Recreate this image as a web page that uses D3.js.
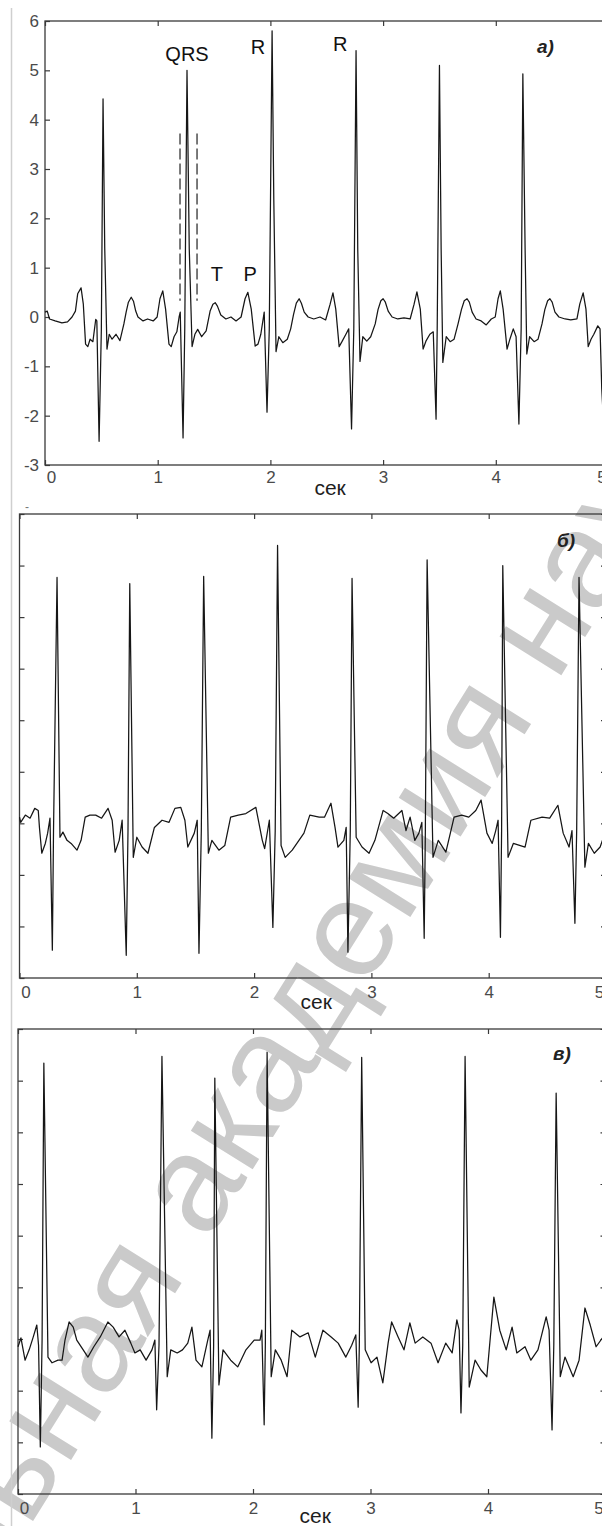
<!DOCTYPE html>
<html>
<head>
<meta charset="utf-8">
<script src="https://cdn.jsdelivr.net/npm/d3@7/dist/d3.min.js"></script>
<style>
  html, body { margin: 0; padding: 0; background: #fff; }
  svg { display: block; font-family: "Liberation Sans", Arial, sans-serif; }
</style>
</head>
<body>
<svg id="chart" width="602" height="1526"></svg>
<script>
// ---- data ---------------------------------------------------------------
const xTicks = [0, 1, 2, 3, 4, 5];
const yTicks = [-3, -2, -1, 0, 1, 2, 3, 4, 5, 6];
const xLabel = "сек";

// a) clean ECG record: [time, s ; amplitude]
const ecgA = [
  [0.00,0.10],[0.02,0.12],[0.04,-0.04],[0.09,-0.08],[0.15,-0.12],[0.20,-0.10],[0.24,0.00],[0.27,0.12],
  [0.29,0.47],[0.32,0.59],[0.34,0.26],[0.36,-0.55],[0.38,-0.60],[0.40,-0.45],[0.425,-0.50],[0.45,-0.05],
  [0.46,-0.08],[0.48,-2.52],[0.50,-0.25],[0.515,4.42],[0.53,1.40],[0.55,-0.65],[0.57,-0.35],[0.595,-0.45],
  [0.63,-0.35],[0.665,-0.48],[0.70,-0.14],[0.72,0.10],[0.74,0.30],[0.765,0.40],[0.785,0.32],[0.805,0.12],
  [0.825,0.00],[0.87,-0.08],[0.91,-0.04],[0.96,-0.08],[0.995,0.00],[1.02,0.37],[1.045,0.53],[1.07,0.16],
  [1.10,-0.55],[1.12,-0.60],[1.145,-0.40],[1.17,-0.30],[1.19,0.00],[1.20,0.10],[1.225,-2.45],[1.24,-0.25],
  [1.26,5.00],[1.28,1.38],[1.305,-0.60],[1.33,-0.35],[1.355,-0.25],[1.39,-0.40],[1.43,-0.28],[1.465,0.12],
  [1.49,0.26],[1.51,0.29],[1.53,0.22],[1.56,0.04],[1.605,-0.04],[1.65,0.00],[1.695,-0.08],[1.74,0.00],
  [1.775,0.37],[1.80,0.50],[1.83,0.16],[1.865,-0.59],[1.89,-0.55],[1.915,-0.35],[1.945,0.10],[1.97,-1.93],
  [1.99,-0.25],[2.015,5.80],[2.03,2.40],[2.05,-0.70],[2.075,-0.40],[2.11,-0.52],[2.15,-0.45],[2.18,-0.24],
  [2.205,0.05],[2.23,0.28],[2.255,0.37],[2.275,0.28],[2.30,0.10],[2.335,0.00],[2.385,-0.04],[2.44,0.00],
  [2.49,-0.06],[2.53,0.26],[2.555,0.49],[2.58,0.16],[2.61,-0.60],[2.635,-0.50],[2.67,-0.35],[2.695,-0.24],
  [2.72,-2.27],[2.74,-0.24],[2.76,5.40],[2.775,1.38],[2.795,-0.90],[2.82,-0.40],[2.855,-0.49],[2.89,-0.40],
  [2.93,-0.14],[2.955,0.15],[2.98,0.33],[3.00,0.37],[3.02,0.30],[3.045,0.12],[3.08,0.00],[3.13,-0.04],
  [3.185,-0.02],[3.24,-0.04],[3.275,0.26],[3.30,0.51],[3.33,0.16],[3.355,-0.65],[3.38,-0.49],[3.415,-0.35],
  [3.445,-0.30],[3.47,-2.07],[3.48,-0.24],[3.50,5.10],[3.515,1.38],[3.53,-0.92],[3.56,-0.40],[3.595,-0.50],
  [3.63,-0.45],[3.665,-0.14],[3.695,0.15],[3.72,0.33],[3.745,0.37],[3.765,0.30],[3.79,0.10],[3.825,-0.04],
  [3.87,-0.08],[3.915,-0.16],[3.96,-0.04],[3.995,0.00],[4.02,0.37],[4.04,0.53],[4.065,0.16],[4.10,-0.65],
  [4.125,-0.45],[4.155,-0.24],[4.18,-0.40],[4.205,-2.17],[4.225,-0.24],[4.24,4.93],[4.26,1.38],[4.275,-0.75],
  [4.30,-0.40],[4.34,-0.50],[4.375,-0.45],[4.41,-0.14],[4.435,0.15],[4.46,0.33],[4.48,0.37],[4.50,0.30],
  [4.525,0.10],[4.56,0.00],[4.615,-0.04],[4.665,-0.06],[4.72,-0.04],[4.745,0.26],[4.775,0.49],[4.80,0.16],
  [4.82,-0.60],[4.845,-0.45],[4.87,-0.35],[4.905,-0.18],[4.925,-0.24],[4.94,-1.45],[4.96,-2.30]
];

// б) record with baseline drift
const ecgB = [
  [0.00,0.12],[0.01,0.02],[0.05,0.16],[0.09,0.10],[0.13,0.29],[0.16,0.25],[0.17,-0.08],[0.19,-0.58],
  [0.22,-0.39],[0.24,-0.19],[0.26,0.10],[0.28,-2.46],[0.29,-0.14],[0.32,4.77],[0.345,-0.27],[0.37,-0.17],
  [0.405,-0.33],[0.44,-0.39],[0.49,-0.52],[0.525,-0.33],[0.56,0.12],[0.60,0.16],[0.65,0.16],[0.70,0.10],
  [0.755,0.29],[0.79,0.06],[0.815,-0.56],[0.85,-0.33],[0.875,0.06],[0.91,-2.56],[0.925,-0.14],[0.94,4.65],
  [0.97,-0.66],[1.00,-0.27],[1.045,-0.46],[1.095,-0.58],[1.15,-0.08],[1.215,0.06],[1.275,0.02],[1.325,0.29],
  [1.375,0.31],[1.41,0.06],[1.435,-0.46],[1.49,-0.19],[1.515,0.06],[1.53,-2.52],[1.55,-0.14],[1.57,4.79],
  [1.61,-0.58],[1.64,-0.33],[1.70,-0.52],[1.75,-0.43],[1.80,0.12],[1.865,0.16],[1.93,0.19],[2.015,0.31],
  [2.07,-0.33],[2.09,-0.49],[2.13,0.06],[2.16,-2.02],[2.18,-0.14],[2.20,5.39],[2.23,-0.43],[2.265,-0.66],
  [2.325,-0.52],[2.425,-0.19],[2.475,0.16],[2.555,0.12],[2.60,0.12],[2.655,0.39],[2.69,-0.08],[2.715,-0.46],
  [2.765,-0.33],[2.785,-0.08],[2.80,-2.50],[2.82,-0.14],[2.835,4.75],[2.87,-0.27],[2.92,-0.46],[2.98,-0.58],
  [3.03,-0.33],[3.10,0.25],[3.14,0.19],[3.19,0.10],[3.26,0.25],[3.295,-0.14],[3.33,0.12],[3.37,-0.33],
  [3.405,-0.19],[3.43,0.02],[3.45,-2.23],[3.46,-0.14],[3.475,5.11],[3.525,-0.66],[3.57,-0.33],[3.635,-0.56],
  [3.705,0.12],[3.77,0.16],[3.83,0.12],[3.89,0.25],[3.935,0.45],[3.985,-0.19],[4.03,-0.39],[4.06,-0.14],
  [4.08,0.06],[4.10,-2.21],[4.11,-0.14],[4.12,5.00],[4.165,-0.66],[4.21,-0.39],[4.31,-0.46],[4.36,0.06],
  [4.455,0.12],[4.52,0.10],[4.59,0.35],[4.635,-0.19],[4.685,-0.46],[4.71,-0.14],[4.735,-1.94],[4.75,-0.14],
  [4.77,4.77],[4.82,-0.85],[4.85,-0.39],[4.90,-0.58],[4.95,-0.46],[4.985,-0.23]
];

// в) record with muscle noise
const ecgC = [
  [0.00,-0.15],[0.025,0.02],[0.06,-0.41],[0.095,-0.21],[0.13,0.04],[0.16,0.27],[0.175,-0.12],[0.19,-2.09],
  [0.205,-0.02],[0.22,5.34],[0.255,-0.35],[0.29,-0.46],[0.34,-0.41],[0.375,-0.41],[0.40,-0.02],[0.435,0.33],
  [0.47,0.23],[0.50,-0.02],[0.555,-0.21],[0.595,-0.35],[0.645,-0.15],[0.70,0.04],[0.765,0.33],[0.81,0.23],
  [0.86,0.04],[0.91,0.17],[0.96,-0.08],[0.995,-0.27],[1.04,-0.21],[1.09,-0.41],[1.14,-0.21],[1.165,-0.02],
  [1.18,-1.37],[1.20,-0.12],[1.225,5.47],[1.27,-0.73],[1.30,-0.21],[1.355,-0.27],[1.40,-0.21],[1.445,-0.08],
  [1.48,0.23],[1.515,-0.41],[1.565,-0.54],[1.615,-0.02],[1.635,0.17],[1.65,-1.92],[1.665,-0.12],[1.675,5.05],
  [1.71,-0.89],[1.745,-0.21],[1.81,-0.41],[1.87,-0.54],[1.94,-0.21],[2.01,-0.02],[2.06,-0.02],[2.075,0.17],
  [2.095,-1.66],[2.105,-0.12],[2.12,5.55],[2.155,-0.73],[2.19,-0.21],[2.24,-0.41],[2.29,-0.73],[2.33,0.17],
  [2.40,0.04],[2.47,0.12],[2.53,-0.35],[2.595,0.17],[2.665,0.04],[2.725,-0.08],[2.79,-0.35],[2.84,-0.12],
  [2.875,0.08],[2.895,-1.32],[2.905,-0.12],[2.925,5.45],[2.955,-0.21],[3.005,-0.46],[3.055,-0.35],[3.105,-0.85],
  [3.15,-0.08],[3.18,0.33],[3.235,0.04],[3.285,-0.21],[3.335,0.31],[3.38,-0.08],[3.445,0.04],[3.515,-0.08],
  [3.575,-0.46],[3.64,-0.08],[3.695,-0.27],[3.735,0.37],[3.755,0.17],[3.77,-1.43],[3.785,-0.12],[3.805,5.47],
  [3.84,-0.93],[3.89,-0.41],[3.94,-0.60],[3.99,-0.73],[4.05,0.81],[4.10,0.17],[4.155,-0.21],[4.205,0.23],
  [4.245,-0.27],[4.315,-0.15],[4.365,-0.41],[4.425,-0.21],[4.495,0.43],[4.52,0.17],[4.545,-1.76],[4.56,-0.12],
  [4.58,4.76],[4.615,-0.73],[4.655,-0.35],[4.725,-0.73],[4.775,-0.41],[4.825,0.60],[4.87,0.27],[4.92,-0.15],
  [4.98,0.04]
];

// wave annotations on panel a: [label, time, amplitude]
const waveLabels = [["QRS",1.26,5.33],["R",1.89,5.48],["R",2.62,5.54],["T",1.526,0.87],["P",1.82,0.87]];
// QRS window markers on panel a: times and amplitude span
const qrsWindow = [1.198, 1.349];
const qrsSpan = [0.33, 3.72];

// ---- layout -------------------------------------------------------------
const svg = d3.select("#chart");
const W = 602, H = 1526;
const FONT = "'Liberation Sans', Arial, sans-serif";

const panels = [
  { id: "a", data: ecgA, tag: "а)", left: 45,   step: 112.7, top: 21,   bottom: 465,  yLabels: true,
    tickPad: 6, titleDy: 23, tagPos: [4.44, 5.48] },
  { id: "b", data: ecgB, tag: "б)", left: 19.5, step: 117.3, top: 514,  bottom: 978,  yLabels: false,
    tickPad: 8, titleDy: 24, tagPos: [4.66, 5.48] },
  { id: "c", data: ecgC, tag: "в)", left: 18,   step: 117.5, top: 1029, bottom: 1494, yLabels: false,
    tickPad: 8, titleDy: 22, tagPos: [4.63, 5.53] }
];

// watermark beneath everything
const wm = svg.append("g").attr("class", "watermark")
  .attr("transform", "translate(66,1468) rotate(-58)")
  .attr("fill", "#cacaca")
  .style("font-size", "138px")
  .style("font-family", FONT);
wm.append("text").attr("text-anchor", "start").text("ная академия наук Беларуси");
wm.append("text").attr("text-anchor", "end").text("Националь");

// page margin rule
svg.append("line").attr("x1", 11.5).attr("x2", 11.5).attr("y1", 8).attr("y2", H)
  .attr("stroke", "#cfcfcf").attr("stroke-width", 1.5);

// stray dash from the previous page
svg.append("text").attr("x", 27).attr("y", 511).attr("text-anchor", "middle")
  .attr("fill", "#777").style("font-size", "12px").text("-");

panels.forEach(p => {
  const x = d3.scaleLinear().domain([0, 5]).range([p.left, p.left + 5 * p.step]);
  const y = d3.scaleLinear().domain([-3, 6]).range([p.bottom, p.top]);
  const g = svg.append("g").attr("class", "panel-" + p.id);

  const styleAxis = sel => {
    sel.select(".domain").remove();
    sel.selectAll(".tick line").attr("stroke", "#3a3a3a").attr("stroke-width", 1.2);
    sel.selectAll(".tick text").attr("fill", "#4a4a4a").style("font-size", "17px")
      .style("font-family", FONT);
  };

  // bottom axis with labels; the end labels sit nudged inside the frame
  const gb = g.append("g").attr("transform", `translate(0,${p.bottom})`)
    .call(d3.axisBottom(x).tickValues(xTicks).tickSizeInner(-5).tickSizeOuter(0)
      .tickPadding(p.tickPad).tickFormat(d => String(d)));
  styleAxis(gb);
  gb.selectAll(".tick text").filter(d => d === 0).attr("x", 6);
  gb.selectAll(".tick text").filter(d => d === 5).attr("x", -7);

  // top axis, ticks only
  const gt = g.append("g").attr("transform", `translate(0,${p.top})`)
    .call(d3.axisTop(x).tickValues(xTicks).tickSizeInner(-5).tickSizeOuter(0).tickFormat(""));
  styleAxis(gt);

  // left axis
  const gl = g.append("g").attr("transform", `translate(${p.left},0)`)
    .call(d3.axisLeft(y).tickValues(yTicks).tickSizeInner(-5).tickSizeOuter(0).tickPadding(6)
      .tickFormat(d => p.yLabels ? String(d) : ""));
  styleAxis(gl);

  // right axis, ticks only
  const gr = g.append("g").attr("transform", `translate(${p.left + 5 * p.step},0)`)
    .call(d3.axisRight(y).tickValues(yTicks).tickSizeInner(-5).tickSizeOuter(0).tickFormat(""));
  styleAxis(gr);

  // frame
  g.append("rect").attr("x", x(0)).attr("y", y(6))
    .attr("width", x(5) - x(0)).attr("height", y(-3) - y(6))
    .attr("fill", "none").attr("stroke", "#3a3a3a").attr("stroke-width", 1.3);

  // x-axis title
  g.append("text").attr("x", x(2.53)).attr("y", p.bottom + p.titleDy).attr("dy", "0.35em")
    .attr("text-anchor", "middle").attr("fill", "#1e1e1e").style("font-size", "21px")
    .text(xLabel);

  // panel tag
  g.append("text").attr("x", x(p.tagPos[0])).attr("y", y(p.tagPos[1])).attr("dy", "0.35em")
    .attr("text-anchor", "middle").attr("fill", "#222").style("font-size", "19px")
    .style("font-style", "italic").style("font-weight", "bold").text(p.tag);

  // ECG trace
  const line = d3.line().x(d => x(d[0])).y(d => y(d[1]));
  g.append("path").datum(p.data).attr("d", line)
    .attr("fill", "none").attr("stroke", "#161616").attr("stroke-width", 1.25)
    .attr("stroke-linejoin", "round");

  if (p.id === "a") {
    // QRS window
    g.selectAll(".qrs-mark").data(qrsWindow).enter().append("line")
      .attr("class", "qrs-mark")
      .attr("x1", d => x(d)).attr("x2", d => x(d))
      .attr("y1", y(qrsSpan[1])).attr("y2", y(qrsSpan[0]))
      .attr("stroke", "#333").attr("stroke-width", 1.3).attr("stroke-dasharray", "11,4");
    // wave names
    g.selectAll(".wave").data(waveLabels).enter().append("text")
      .attr("class", "wave")
      .attr("x", d => x(d[1])).attr("y", d => y(d[2])).attr("dy", "0.35em")
      .attr("text-anchor", "middle").attr("fill", "#111").style("font-size", "20px")
      .text(d => d[0]);
  }
});
</script>
</body>
</html>
